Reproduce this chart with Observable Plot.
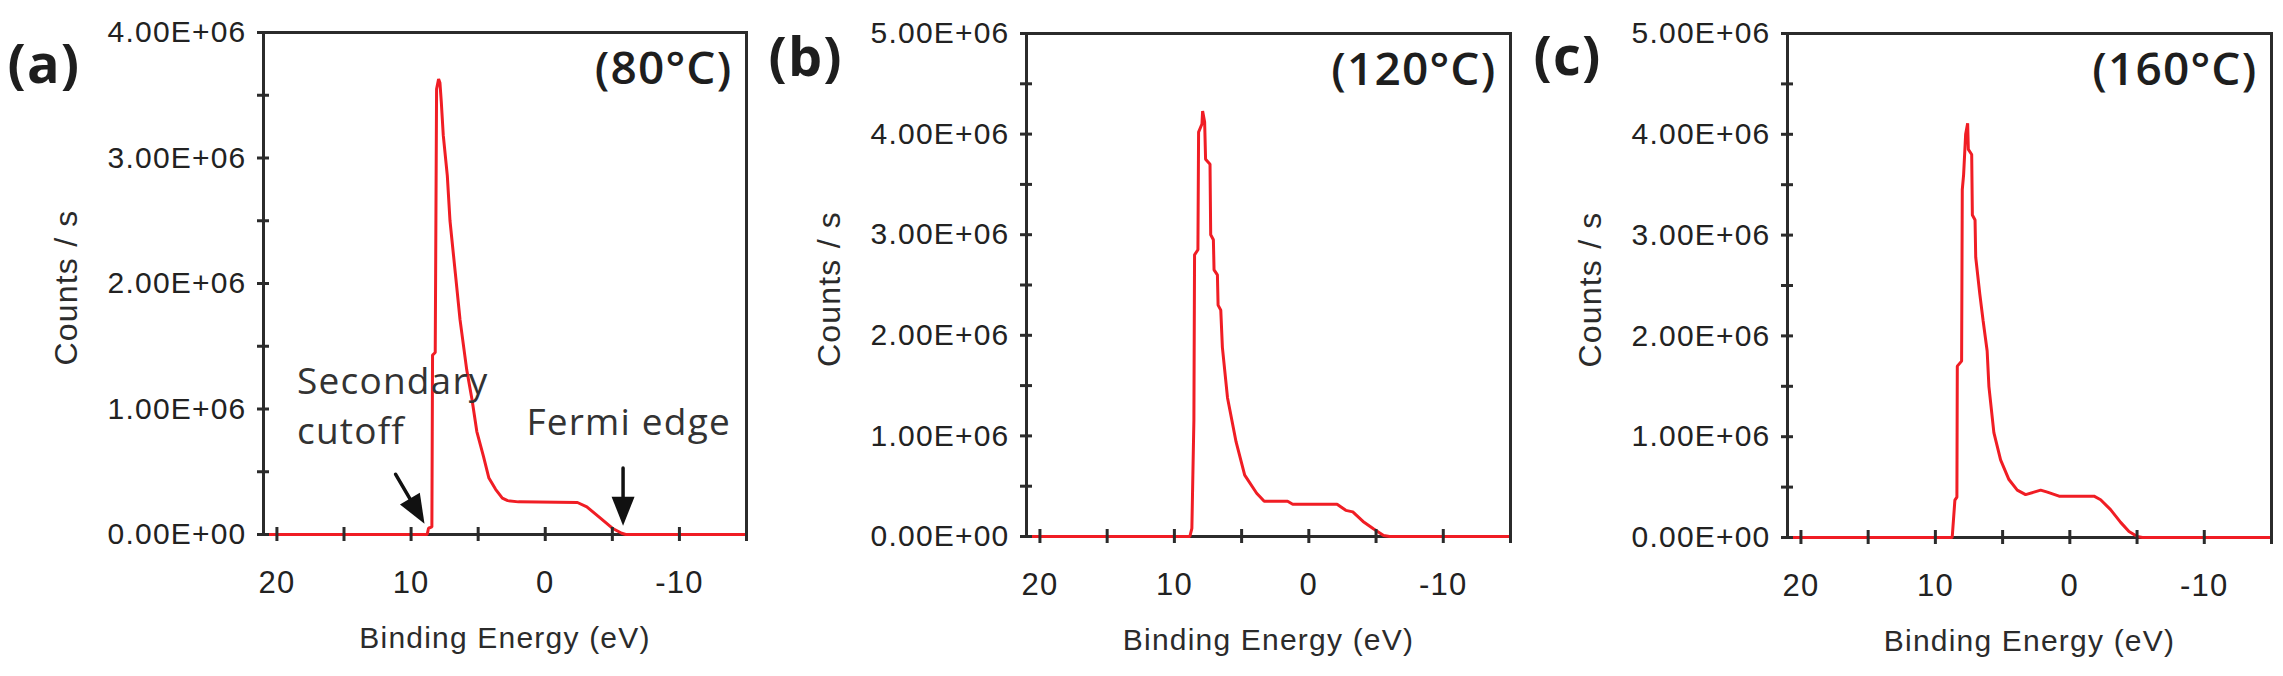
<!DOCTYPE html>
<html>
<head>
<meta charset="utf-8">
<script src="https://cdn.jsdelivr.net/npm/d3@7"></script>
<script src="https://cdn.jsdelivr.net/npm/@observablehq/plot@0.6"></script>
<style>
html, body { margin: 0; padding: 0; background: #ffffff; }
#wrap { position: relative; width: 2283px; height: 676px; overflow: hidden; background: #fff; }
.panel { position: absolute; top: 0; width: 761px; height: 676px; }
</style>
</head>
<body>
<div id="wrap"></div>
<script>
// ---------------- data ----------------
// Binding energy (eV) and counts/s for each temperature
const energyA = [21, 8.8, 8.7, 8.45, 8.4, 8.2, 8.1, 7.95, 7.85, 7.75, 7.6, 7.3, 7.1, 6.7, 6.35, 5.85, 5.45, 5.1, 4.6, 4.2, 3.7, 3.2, 2.8, 2.0, -2.4, -3.1, -4.0, -5.0, -5.7, -6.0, -15];
const countsA = [0, 0, 0.05e6, 0.06e6, 1.43e6, 1.45e6, 3.55e6, 3.63e6, 3.6e6, 3.45e6, 3.18e6, 2.86e6, 2.5e6, 2.08e6, 1.71e6, 1.31e6, 1.07e6, 0.82e6, 0.62e6, 0.45e6, 0.36e6, 0.29e6, 0.27e6, 0.26e6, 0.255e6, 0.22e6, 0.14e6, 0.05e6, 0.01e6, 0, 0];

const energyB = [21, 8.85, 8.7, 8.55, 8.5, 8.25, 8.2, 7.95, 7.9, 7.75, 7.68, 7.35, 7.3, 7.1, 7.05, 6.8, 6.75, 6.55, 6.43, 6.05, 5.41, 4.77, 3.88, 3.32, 1.58, 1.2, -2.1, -2.75, -3.27, -4.03, -4.8, -5.56, -6.0, -15];
const countsB = [0, 0, 0.08e6, 1.15e6, 2.8e6, 2.85e6, 4.02e6, 4.1e6, 4.23e6, 4.12e6, 3.75e6, 3.7e6, 3.0e6, 2.95e6, 2.65e6, 2.6e6, 2.3e6, 2.25e6, 1.88e6, 1.38e6, 0.94e6, 0.61e6, 0.43e6, 0.35e6, 0.35e6, 0.32e6, 0.32e6, 0.26e6, 0.245e6, 0.15e6, 0.077e6, 0.01e6, 0, 0];

const energyC = [21, 8.75, 8.55, 8.4, 8.37, 8.05, 8.0, 7.9, 7.75, 7.6, 7.55, 7.3, 7.25, 7.05, 7.0, 6.7, 6.45, 6.15, 6.02, 5.65, 5.15, 4.53, 3.91, 3.29, 2.67, 2.17, 1.67, 0.8, -1.8, -2.29, -3.03, -3.78, -4.4, -5.02, -5.4, -15];
const countsC = [0, 0, 0.37e6, 0.4e6, 1.7e6, 1.75e6, 3.45e6, 3.6e6, 4.0e6, 4.11e6, 3.85e6, 3.8e6, 3.2e6, 3.15e6, 2.78e6, 2.42e6, 2.15e6, 1.85e6, 1.5e6, 1.04e6, 0.77e6, 0.575e6, 0.47e6, 0.425e6, 0.45e6, 0.47e6, 0.45e6, 0.41e6, 0.41e6, 0.375e6, 0.276e6, 0.15e6, 0.06e6, 0.01e6, 0, 0];

// axes
const xDomain = [21, -15];
const xTickLabels = [20, 10, 0, -10];
const xTickMarks = [20, 15, 10, 5, 0, -5, -10, -15];
const yTicksA = [0, 1e6, 2e6, 3e6, 4e6];
const yMarksA = [0, 0.5e6, 1e6, 1.5e6, 2e6, 2.5e6, 3e6, 3.5e6, 4e6];
const yTicksBC = [0, 1e6, 2e6, 3e6, 4e6, 5e6];
const yMarksBC = [0, 0.5e6, 1e6, 1.5e6, 2e6, 2.5e6, 3e6, 3.5e6, 4e6, 4.5e6, 5e6];

// labels
const panelLetters = ["(a)", "(b)", "(c)"];
const temperatures = ["(80°C)", "(120°C)", "(160°C)"];
const yTitle = "Counts / s";
const xTitle = "Binding Energy (eV)";

// annotations of panel (a)
const noteTexts = ["Secondary", "cutoff", "Fermi edge"];
const noteX = [18.5, 18.5, 1.4];
const noteY = [1.12e6, 0.72e6, 0.79e6];
const arrowStartX = [11.15, -5.8];
const arrowStartY = [0.48e6, 0.53e6];
const arrowTipX = [9.0, -5.8];
const arrowTipY = [0.086e6, 0.07e6];

// ---------------- drawing ----------------
const RED = "#f01d24";
const INK = "#2b2b2b";
const fmtY = d => d === 0 ? "0.00E+00" : (d / 1e6).toFixed(2) + "E+06";

// filled arrowhead, tip at the origin; angle 0 = pointing straight down, positive = turned toward the right
function headSymbol(angleDeg) {
  const a = angleDeg * Math.PI / 180, L = 29, W = 11.5;
  const ux = Math.sin(a), uy = Math.cos(a);
  return {
    draw(ctx) {
      ctx.moveTo(0, 0);
      ctx.lineTo(-ux * L + uy * W, -uy * L - ux * W);
      ctx.lineTo(-ux * L - uy * W, -uy * L + ux * W);
      ctx.closePath();
    }
  };
}

const panels = [
  {energy: energyA, counts: countsA, yMax: 4e6, yTicks: yTicksA, yMarks: yMarksA,
   left: 0, mL: 263, mR: 15, mT: 32, mB: 142, letterDx: -256, letterDy: 12, annotate: true},
  {energy: energyB, counts: countsB, yMax: 5e6, yTicks: yTicksBC, yMarks: yMarksBC,
   left: 761, mL: 265, mR: 12, mT: 33, mB: 140, letterDx: -258, letterDy: 4, annotate: false},
  {energy: energyC, counts: countsC, yMax: 5e6, yTicks: yTicksBC, yMarks: yMarksBC,
   left: 1522, mL: 265, mR: 12, mT: 33, mB: 139, letterDx: -254, letterDy: 3, annotate: false}
];

const wrap = document.getElementById("wrap");

panels.forEach((p, k) => {
  const W = 761, H = 676;
  const data = p.energy.map((e, i) => ({e, c: p.counts[i]}));
  const marks = [
    Plot.frame({stroke: INK, strokeWidth: 3}),
    Plot.line(data, {x: "e", y: "c", stroke: RED, strokeWidth: 3, strokeLinejoin: "miter"}),
    Plot.ruleX(xTickMarks, {x: d => d, y1: 0, y2: 0, insetTop: -7, insetBottom: -7, stroke: INK, strokeWidth: 3}),
    Plot.ruleY(p.yMarks, {y: d => d, x1: xDomain[0], x2: xDomain[0], insetLeft: -6, insetRight: -6, stroke: INK, strokeWidth: 3}),
    Plot.axisY(p.yTicks, {tickFormat: fmtY, tickSize: 0, tickPadding: 17, fontSize: 30, label: null, fontWeight: 500}),
    Plot.axisX(xTickLabels, {tickFormat: d => String(d), tickSize: 0, tickPadding: 36, fontSize: 31, label: null}),
    Plot.text([yTitle], {text: d => d, frameAnchor: "left", dx: -197, dy: 4, rotate: -90, textAnchor: "middle", lineAnchor: "middle", fontSize: 32, fill: INK}),
    Plot.text([xTitle], {text: d => d, frameAnchor: "bottom", dy: 113, textAnchor: "middle", lineAnchor: "bottom", fontSize: 30, fill: INK}),
    Plot.text([temperatures[k]], {text: d => d, frameAnchor: "top-right", dx: -14, dy: 19, textAnchor: "end", lineAnchor: "top", fontSize: 46, fontWeight: 600, fontFamily: "'Open Sans', sans-serif", fill: "#1e1e1e"}),
    Plot.text([panelLetters[k]], {text: d => d, frameAnchor: "top-left", dx: p.letterDx, dy: p.letterDy, textAnchor: "start", lineAnchor: "top", fontSize: 54, fontWeight: 700, fontFamily: "'Open Sans', sans-serif", fill: "#1e1e1e"})
  ];
  if (p.annotate) {
    const notes = noteTexts.map((t, i) => ({t, x: noteX[i], y: noteY[i]}));
    const arrows = arrowStartX.map((x, i) => ({x1: x, y1: arrowStartY[i], x2: arrowTipX[i], y2: arrowTipY[i]}));
    // arrow direction (screen space) for the arrowheads
    const pxPerX = (W - p.mL - p.mR) / Math.abs(xDomain[1] - xDomain[0]);
    const pxPerY = (H - p.mT - p.mB) / p.yMax;
    marks.push(
      Plot.text(notes, {x: "x", y: "y", text: "t", textAnchor: "start", lineAnchor: "bottom", fontSize: 37, fontFamily: "'Open Sans', sans-serif", fill: "#333"}),
      Plot.arrow(arrows, {x1: "x1", y1: "y1", x2: "x2", y2: "y2", headLength: 0, insetEnd: 14, stroke: "#111", strokeWidth: 3.5})
    );
    arrows.forEach(a => {
      const dxp = (a.x1 - a.x2) * pxPerX; // reversed x axis: start at higher energy lies to the left of the tip
      const dyp = (a.y1 - a.y2) * pxPerY; // start above the tip
      const ang = Math.atan2(dxp, dyp) * 180 / Math.PI;
      marks.push(Plot.dot([a], {x: "x2", y: "y2", symbol: headSymbol(ang), fill: "#111", stroke: "none", r: 10}));
    });
  }
  const svg = Plot.plot({
    width: W, height: H,
    marginLeft: p.mL, marginRight: p.mR, marginTop: p.mT, marginBottom: p.mB,
    style: {fontFamily: "'Liberation Sans', Arial, sans-serif", color: "#222", background: "transparent", letterSpacing: "1.2px", overflow: "visible"},
    x: {domain: xDomain, label: null},
    y: {domain: [0, p.yMax], label: null},
    marks
  });
  const div = document.createElement("div");
  div.className = "panel";
  div.style.left = p.left + "px";
  div.appendChild(svg);
  wrap.appendChild(div);
});
</script>
</body>
</html>
